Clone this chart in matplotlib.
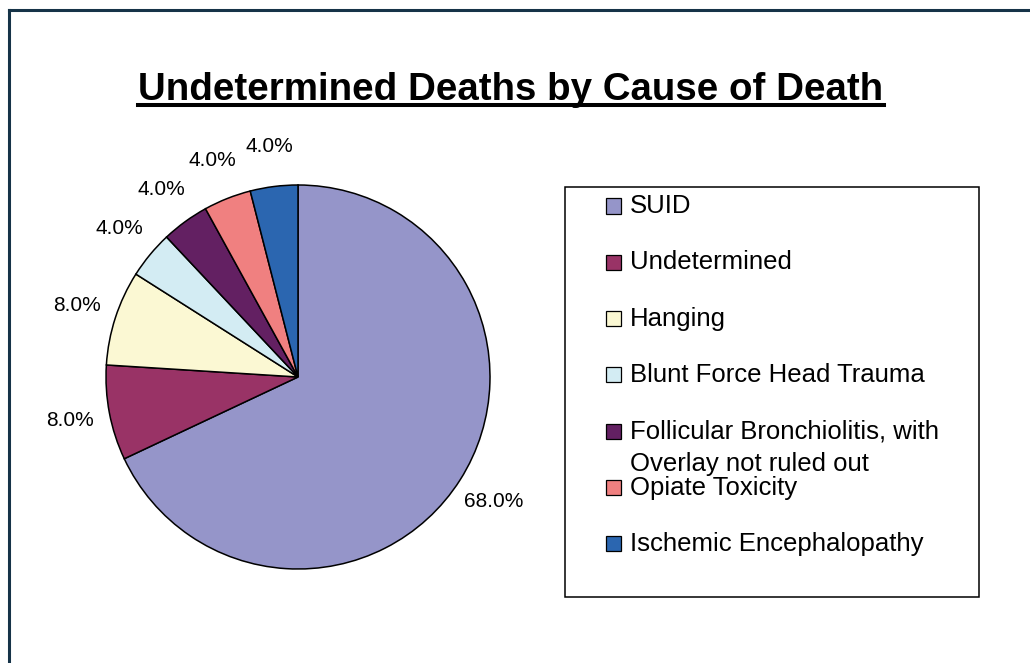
import matplotlib.pyplot as plt
from matplotlib.patches import Rectangle
from matplotlib.lines import Line2D

plt.rcParams['font.family'] = ['Liberation Sans', 'DejaVu Sans']

causes = ['SUID', 'Undetermined', 'Hanging', 'Blunt Force Head Trauma',
          'Follicular Bronchiolitis, with\nOverlay not ruled out',
          'Opiate Toxicity', 'Ischemic Encephalopathy']
shares = [68.0, 8.0, 8.0, 4.0, 4.0, 4.0, 4.0]
colors = ['#9595c9', '#993366', '#fbf8d3', '#d3ecf3', '#632062', '#f08080', '#2b66b0']

W, H = 1030, 663
fig = plt.figure(figsize=(W / 100, H / 100), dpi=100)

def px(x, y):
    # pixel position (from top-left) -> figure fraction
    return x / W, 1 - y / H

# pie: centre (298, 377), radius ~192 px
R = 192
lim = 1.3
side = 2 * lim * R
cx, cy = 298, 377
ax = fig.add_axes([(cx - side / 2) / W, 1 - (cy + side / 2) / H, side / W, side / H])
ax.pie(shares, colors=colors, startangle=90, counterclock=False,
       autopct='%1.1f%%', pctdistance=1.21,
       wedgeprops=dict(edgecolor='black', linewidth=1.1),
       textprops=dict(fontsize=15))
ax.set_xlim(-lim, lim)
ax.set_ylim(-lim, lim)
ax.set_aspect('equal')

# title with underline
t = fig.text(*px(511, 100), 'Undetermined Deaths by Cause of Death',
             ha='center', va='baseline', fontsize=27.7, fontweight='bold')
fig.canvas.draw()
bb = t.get_window_extent()
uy = 1 - 105 / H
fig.add_artist(Line2D([bb.x0 / W, bb.x1 / W], [uy, uy], color='black',
                      linewidth=2.9, transform=fig.transFigure))

# legend box drawn by hand
x0, y0 = px(565, 597)
x1, y1 = px(979, 187)
fig.add_artist(Rectangle((x0, y0), x1 - x0, y1 - y0, transform=fig.transFigure,
                         facecolor='white', edgecolor='black', linewidth=1.1))
row0, step = 206, 56.3
for i, (lab, col) in enumerate(zip(causes, colors)):
    ry = row0 + i * step
    sx, sy = px(606, ry + 7.5)
    fig.add_artist(Rectangle((sx, sy), 15 / W, 15 / H, transform=fig.transFigure,
                             facecolor=col, edgecolor='black', linewidth=0.9))
    for j, line in enumerate(lab.split('\n')):
        fig.text(*px(630, ry + j * 33), line, ha='left', va='center', fontsize=18.5)

# outer frame (top and left edges visible)
frame_col = '#163348'
fig.add_artist(Line2D([9 / W, 1], [1 - 10 / H, 1 - 10 / H], color=frame_col,
                      linewidth=2.2, transform=fig.transFigure))
fig.add_artist(Line2D([9 / W, 9 / W], [0, 1 - 10 / H], color=frame_col,
                      linewidth=2.2, transform=fig.transFigure))

fig.savefig('out.png', dpi=100, facecolor='white')
